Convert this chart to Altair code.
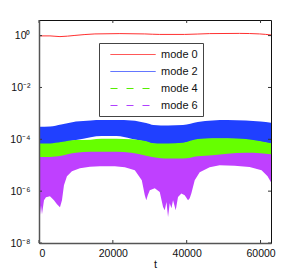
import altair as alt
import pandas as pd

# ---- data ----
modes = ["mode 0", "mode 2", "mode 4", "mode 6"]
mode_colors = ["#ff3030", "#2040ff", "#66ff00", "#bf40ff"]
legend_colors = ["#ff2020", "#3048ff", "#55ee00", "#b040ff"]
legend_dashes = [[1, 0], [1, 0], [7, 9], [7, 9]]

t_band = [0, 3000, 6000, 10000, 14000, 17000, 21000, 25000, 29000, 31000,
          33000, 35000, 39000, 43000, 47000, 51000, 56000, 60000, 62832]
blue_top = [3.03e-4, 3.09e-4, 3.69e-4, 4.82e-4, 5.37e-4, 5.51e-4, 5.51e-4, 5.27e-4, 4.22e-4, 3.53e-4,
            3.38e-4, 3.38e-4, 3.53e-4, 4.61e-4, 5.27e-4, 5.51e-4, 5.27e-4, 4.82e-4, 4.34e-4]
blue_bot = [6.5e-5, 6.5e-5, 7.3e-5, 9.3e-5, 1.21e-4, 1.33e-4, 1.33e-4, 1.05e-4, 8.0e-5, 6.7e-5,
            6.5e-5, 6.5e-5, 7.0e-5, 9.6e-5, 1.05e-4, 1.05e-4, 9.6e-5, 8.0e-5, 6.7e-5]
green_top = [6.9e-5, 6.9e-5, 7.8e-5, 9.3e-5, 9.7e-5, 1.05e-4, 1.05e-4, 1.0e-4, 8.5e-5, 7.1e-5,
             6.9e-5, 6.9e-5, 7.4e-5, 1.02e-4, 1.11e-4, 1.11e-4, 1.02e-4, 8.5e-5, 7.1e-5]
green_bot = [2.1e-5, 2.1e-5, 2.34e-5, 3.0e-5, 3.28e-5, 3.34e-5, 3.34e-5, 3.05e-5, 2.34e-5, 2.05e-5,
             1.87e-5, 1.82e-5, 1.82e-5, 2.24e-5, 2.45e-5, 2.79e-5, 3.0e-5, 2.92e-5, 2.67e-5]

t_m6 = [0, 270, 540, 810, 1350, 1890, 2970, 4050, 4870, 5680, 6220, 6760, 7570, 8920, 11080,
        13790, 16490, 20540, 23250, 25950, 27840, 28650, 29060, 29460, 30000, 31350, 32700,
        33600, 34060, 34520, 34950, 35410, 35870, 36300, 37030, 37650, 38570, 39460, 40360,
        40820, 41270, 42170, 43520, 46220, 48920, 52980, 57030, 60280, 61900, 62832]
m6_bot = [1.16e-8, 1.17e-7, 2.86e-7, 1.28e-7, 4.46e-7, 5.82e-7, 6.37e-7, 4.46e-7, 3.12e-7, 2.39e-7,
          4.46e-7, 1.69e-6, 3.78e-6, 5.89e-6, 7.69e-6, 8.79e-6, 9.19e-6, 9.19e-6, 8.41e-6, 6.44e-6,
          2.64e-6, 6.95e-7, 4.46e-7, 6.95e-7, 1.09e-6, 1.30e-6, 9.33e-7, 2.45e-7, 1.83e-7, 3.83e-7,
          1.01e-7, 3.41e-7, 2.19e-7, 4.46e-7, 1.83e-7, 5.98e-7, 8.09e-7, 6.95e-7, 4.46e-7, 5.32e-7,
          8.32e-7, 2.64e-6, 5.38e-6, 8.41e-6, 1.00e-5, 9.61e-6, 8.63e-6, 6.44e-6, 3.78e-6, 2.21e-6]
m6_hidden_top = 5e-5  # upper end lies under the green band

t_m0 = [0, 2970, 5680, 9730, 15140, 21900, 28650, 32700, 39460, 46220, 54330, 59740, 62832]
m0 = [0.974, 0.974, 0.915, 1.018, 1.16, 1.195, 1.16, 1.11, 1.11, 1.195, 1.216, 1.16, 1.06]

x_ticks = [0, 20000, 40000, 60000]
y_ticks = [1e-8, 1e-6, 1e-4, 1e-2, 1]
x_min, x_max = 0, 62832
y_min, y_max = 1e-8, 4.0

# ---- frames ----
bands = pd.DataFrame({"t": t_band, "btop": blue_top, "bbot": blue_bot,
                      "gtop": green_top, "gbot": green_bot})
m6df = pd.DataFrame({"t": t_m6, "bot": m6_bot, "top": [m6_hidden_top] * len(t_m6)})
m0df = pd.DataFrame({"t": t_m0, "v": m0, "mode": ["mode 0"] * len(t_m0)})
xt = pd.DataFrame({"t": x_ticks})
yt = pd.DataFrame({"v": y_ticks})

xs = alt.Scale(domain=[x_min, x_max], nice=False, zero=False)
ys = alt.Scale(type="log", domain=[y_min, y_max], nice=False, clamp=True)

ylab = ("datum.value >= 0.5 ? '10\u2070' : datum.value >= 0.005 ? '10\u207b\u00b2' : "
        "datum.value >= 5e-5 ? '10\u207b\u2074' : datum.value >= 5e-7 ? '10\u207b\u2076' : '10\u207b\u2078'")

X = alt.X("t:Q", scale=xs, title="t",
          axis=alt.Axis(values=x_ticks, format="d", grid=False, ticks=False, tickSize=0,
                        labelPadding=5, labelFontSize=10.5, titleFontSize=11,
                        titleFontWeight="normal", titlePadding=0, domainColor="#555",
                        domainWidth=1.5, zindex=1))
Y = alt.Y("btop:Q", scale=ys, title=None,
          axis=alt.Axis(values=y_ticks, labelExpr=ylab, grid=False, ticks=False, tickSize=0,
                        labelPadding=9, labelFontSize=10.5, domainColor="#555",
                        domainWidth=1.5, zindex=1))

blue = alt.Chart(bands).mark_area(color=mode_colors[1], interpolate="monotone").encode(
    x=X, y=Y, y2="bbot:Q")
purple = alt.Chart(m6df).mark_area(color=mode_colors[3]).encode(
    x=alt.X("t:Q", scale=xs), y=alt.Y("bot:Q", scale=ys), y2="top:Q")
green = alt.Chart(bands).mark_area(color=mode_colors[2], interpolate="monotone").encode(
    x=alt.X("t:Q", scale=xs), y=alt.Y("gtop:Q", scale=ys), y2="gbot:Q")
red = alt.Chart(m0df).mark_line(strokeWidth=1, interpolate="monotone",
                                color=mode_colors[0]).encode(
    x=alt.X("t:Q", scale=xs), y=alt.Y("v:Q", scale=ys))

leg = dict(title=None, orient="none", legendX=60, legendY=23, symbolType="M0,0H8",
           symbolSize=127, symbolStrokeWidth=1, labelOffset=44, labelFontSize=11,
           labelFont="Liberation Sans", labelColor="#111", padding=5, rowPadding=5,
           strokeColor="#444", fillColor="white", direction="vertical",
           labelExpr="datum.label + '\u00a0\u00a0\u00a0'")
legend_layer = alt.Chart(m0df).mark_line(strokeWidth=1, opacity=0).encode(
    x=alt.X("t:Q", scale=xs), y=alt.Y("v:Q", scale=ys),
    color=alt.Color("mode:N", scale=alt.Scale(domain=modes, range=legend_colors),
                    legend=alt.Legend(**leg)),
    strokeDash=alt.StrokeDash("mode:N", scale=alt.Scale(domain=modes, range=legend_dashes),
                              legend=alt.Legend(**leg)))

tick_len_log = 1.3
tick_len_t = 811
xb = alt.Chart(xt).mark_rule(color="#333").encode(
    x=alt.X("t:Q", scale=xs), y=alt.datum(y_min, scale=ys), y2=alt.datum(y_min * tick_len_log))
xtp = alt.Chart(xt).mark_rule(color="#333").encode(
    x=alt.X("t:Q", scale=xs), y=alt.datum(y_max, scale=ys), y2=alt.datum(y_max / tick_len_log))
yl = alt.Chart(yt).mark_rule(color="#333").encode(
    y=alt.Y("v:Q", scale=ys), x=alt.datum(x_min, scale=xs), x2=alt.datum(x_min + tick_len_t))
yr = alt.Chart(yt).mark_rule(color="#333").encode(
    y=alt.Y("v:Q", scale=ys), x=alt.datum(x_max, scale=xs), x2=alt.datum(x_max - tick_len_t))

chart = alt.layer(blue, purple, green, red, legend_layer, xb, xtp, yl, yr).properties(
    width=232, height=223,
    autosize=alt.AutoSizeParams(type="none"),
    padding={"left": 31, "top": 12, "right": 21, "bottom": 30},
    background="white",
).configure_view(stroke="#111", strokeWidth=1).configure_axis(
    labelFont="Liberation Sans", titleFont="Liberation Sans", labelColor="#111", titleColor="#111"
)

chart.save("out.html", embed_options={"renderer": "svg", "actions": False})
